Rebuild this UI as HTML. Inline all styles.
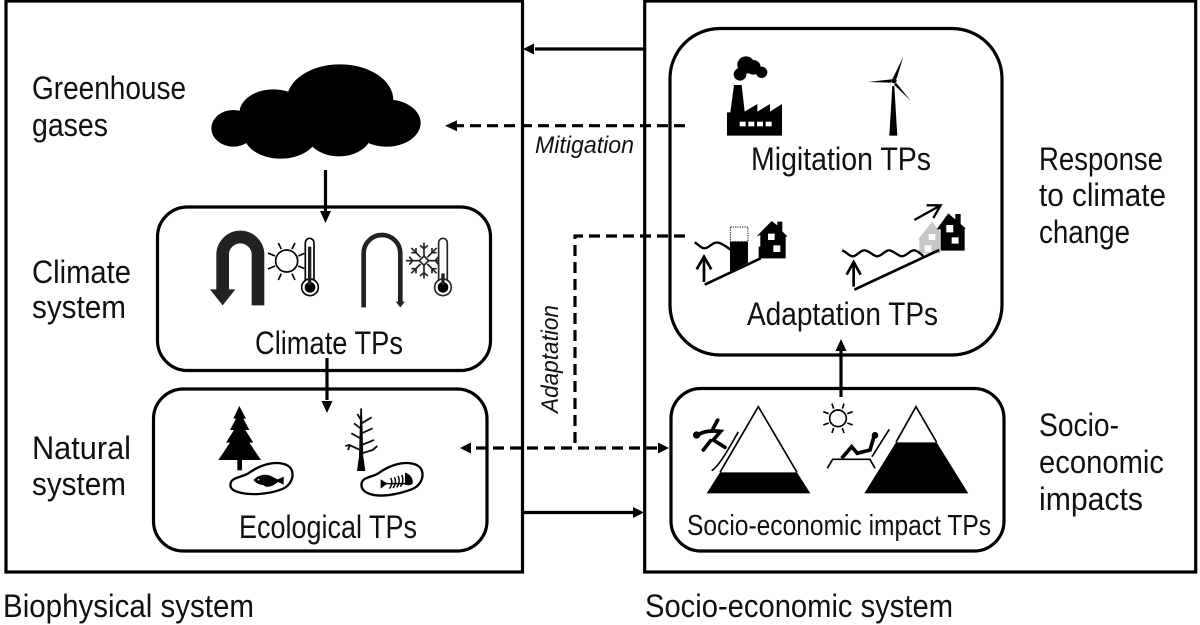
<!DOCTYPE html>
<html><head><meta charset="utf-8"><style>
html,body{margin:0;padding:0;background:#fff;width:1200px;height:625px;overflow:hidden}
svg{display:block}
text{font-family:"Liberation Sans",sans-serif;fill:#111;font-size:32px}
.i{font-style:italic;font-size:24px}
</style></head><body>
<svg width="1200" height="625" viewBox="0 0 1200 625" xmlns="http://www.w3.org/2000/svg">
<rect width="1200" height="625" fill="#fff"/>
<g fill="none" stroke="#000" stroke-width="3.2">
<rect x="6" y="1" width="516.5" height="571"/>
<rect x="644.7" y="1" width="551" height="571"/>
<rect x="157.5" y="207" width="333" height="163.5" rx="30"/>
<rect x="153.5" y="389" width="333.5" height="162" rx="30"/>
<rect x="670" y="28.5" width="332" height="326.5" rx="50"/>
<rect x="671" y="388.5" width="333" height="162.5" rx="30"/>
</g>

<!-- connectors -->
<g fill="none" stroke="#000" stroke-width="3.2">
<path d="M644,49H535"/><path d="M523,512.500H633"/>
<path d="M325.500,170V212"/><path d="M327,358V400"/><path d="M841,397V350"/>
<g stroke-dasharray="11 6">
<path d="M685,125.700H456"/>
<path d="M685,236H575V447"/>
<path d="M657,448H470"/>
</g>
</g>
<g fill="#000">
<path d="M523,49l11,-5.500v11z"/>
<path d="M644,512.500l-11,-5.500v11z"/>
<path d="M325.500,223l-5.500,-12h11z"/>
<path d="M327,413l-5.500,-12h11z"/>
<path d="M841,339l-5.500,12h11z"/>
<path d="M445,125.700l12,-5.500v11z"/>
<path d="M460,448l11,-5.500v11z"/>
<path d="M669,448l-11,-5.500v11z"/>
</g>

<!-- cloud -->
<g transform="translate(190 50) scale(.3333)" fill="#000">
<ellipse cx="130" cy="235" rx="66" ry="55"/>
<ellipse cx="250" cy="190" rx="102" ry="72"/>
<ellipse cx="450" cy="150" rx="160" ry="107"/>
<ellipse cx="590" cy="219" rx="102" ry="71"/>
<ellipse cx="272" cy="250" rx="112" ry="76"/>
<ellipse cx="447" cy="245" rx="100" ry="74"/>
</g>

<!-- climate icons -->
<g transform="translate(160 200) scale(.3333)">
<path d="M294,316V164A53,53 0 0 0 188,164V270" fill="none" stroke="#222" stroke-width="38"/>
<path d="M150,268H226L188,316z" fill="#222"/>
<circle cx="380" cy="183" r="33" fill="none" stroke="#000" stroke-width="5"/>
<g stroke="#000" stroke-width="5" fill="none">
<path d="M364,147l-9,-18M396,147l9,-18M345,168l-21,-9M345,198l-21,9M364,221l-9,19M396,221l9,19M415,168l18,-8M415,198l18,8"/>
<path d="M436,240V128a13,13 0 0 1 26,0V240" fill="#fff"/>
<circle cx="450" cy="262" r="25" fill="#fff"/>
</g>
<circle cx="450" cy="262" r="16" fill="#000"/><rect x="444" y="140" width="10" height="115" fill="#222"/>
<path d="M611,322V160A55,55 0 0 1 721,160V306" fill="none" stroke="#222" stroke-width="14"/>
<path d="M707,305H735L721,322z" fill="#222"/>
<g stroke="#222" stroke-width="5" fill="none">
<path d="M792,128V168M792,196V236M738,182H778M806,182H846M754,144L782,172M802,192L830,220M830,144L802,172M782,192L754,220"/>
<path d="M780,136l12,10l12,-10M780,228l12,-10l12,10M748,170l10,12l-10,12M836,170l-10,12l10,12M754,158h14v-14M830,158h-14v-14M754,206h14v14M830,206h-14v14"/>
<path d="M792,168l14,14l-14,14l-14,-14z"/>
<path d="M836,240V128a13,13 0 0 1 26,0V240" fill="#fff"/>
<circle cx="849" cy="262" r="25" fill="#fff"/>
</g>
<circle cx="849" cy="262" r="16" fill="#000"/><rect x="844" y="220" width="10" height="35" fill="#222"/>
</g>

<!-- ecological icons -->
<g transform="translate(150 390) scale(.3333)">
<path d="M268,48L288,86H280L298,120H286L310,158H298L333,210H205L240,158H228L252,120H240L258,86H250z" fill="#000"/>
<rect x="262" y="205" width="14" height="36" fill="#000"/>
<path d="M242,280C245,262 275,262 295,250C330,225 375,210 410,225C440,240 430,285 395,298C350,315 300,315 270,308C250,303 238,295 242,280z" fill="#fff" stroke="#000" stroke-width="7"/>
<path d="M310,270C322,258 345,246 370,262L384,268L401,260V284L384,276C370,288 350,296 340,285C330,285 318,280 310,270z" fill="#000"/>
<circle cx="326" cy="269" r="2.500" fill="#fff"/>
<path d="M631,55H636L640,200L646,243H621L627,200z" fill="#000"/>
<g fill="none" stroke="#111" stroke-width="5.500">
<path d="M633,90L622,72M635,100L665,82M631,115L612,100M635,130L668,115M631,145L604,130M635,165L672,150M631,180L598,165L586,168M600,165L594,180M635,190L668,180L682,168"/>
</g>
<path d="M635,280C637,262 665,262 685,250C720,225 765,210 800,225C830,240 820,285 785,298C740,315 690,322 660,312C642,306 632,295 635,280z" fill="#fff" stroke="#000" stroke-width="7"/>
<path d="M765,248C782,252 792,270 787,282C778,288 768,285 765,284z" fill="#000"/>
<path d="M692,268L712,280L692,296z" fill="#000"/>
<path d="M705,281H768M722,264C728,272 726,288 718,296M733,262C739,270 737,286 729,294M744,258C750,268 748,284 740,292M755,255C761,265 759,281 751,290" stroke="#000" stroke-width="4.500" fill="none"/>
</g>

<!-- mitigation icons -->
<g transform="translate(670 30) scale(.3333)" fill="#000">
<circle cx="228" cy="105" r="26"/><circle cx="210" cy="133" r="19"/><circle cx="250" cy="112" r="22"/><circle cx="275" cy="127" r="17"/>
<path d="M192,165H215L224,245L262,222V245L300,222V245L336,222V317H171V247H181z"/>
<g fill="#fff"><rect x="209" y="275" width="18" height="14"/><rect x="235" y="275" width="18" height="14"/><rect x="261" y="275" width="18" height="14"/><rect x="287" y="275" width="18" height="14"/></g>
<path d="M667,168H673L682,317H658z"/>
<circle cx="672" cy="152" r="8"/>
<path d="M669,144L700,80L680,146z"/>
<path d="M664,148L594,156L664,158z"/>
<path d="M678,158L722,212L672,164z"/>
</g>

<!-- adaptation icons -->
<g transform="translate(670 190) scale(.3333)">
<path d="M74,157C88,165 95,178 108,174C120,170 130,155 145,158C158,160 170,172 181,178" fill="none" stroke="#000" stroke-width="7"/>
<path d="M180,155H234V218L180,245z" fill="#000"/>
<rect x="181" y="111" width="53" height="44" fill="none" stroke="#222" stroke-width="3" stroke-dasharray="4 3"/>
<path d="M104,284L272,205" stroke="#000" stroke-width="8" fill="none"/>
<path d="M102,276V200M80,238L102,200L124,238" fill="none" stroke="#000" stroke-width="8"/>
<path d="M266,205V170H271V135L260,139L305,93L322,106V95H337V124L352,139L347,141V205zM294,131V150H314V131zM310,166V186H331V166z" fill="#000" fill-rule="evenodd"/>
<path d="M748,190V150L745,148L786,95L810,125V190zM776,132V150H796V132zM764,166V186H784V166z" fill="#c6c6c6" fill-rule="evenodd"/>
<path d="M516,181C530,186 538,199 548,199C560,199 570,181 583,181C597,181 610,199 622,199C634,199 645,181 657,181C670,181 685,199 696,199C708,199 720,181 732,181C742,181 752,192 760,198" fill="none" stroke="#000" stroke-width="7"/>
<path d="M553,299L808,180" stroke="#000" stroke-width="8" fill="none"/>
<path d="M551,290V216M530,254L551,216L572,254" fill="none" stroke="#000" stroke-width="8"/>
<path d="M812,178V118H800L835,70L856,88V72H872V102L888,116H884V182H812zM829,105V127H850V105zM845,142V161H866V142z" fill="#000" fill-rule="evenodd"/>
<path d="M733,90L805,50M770,46H812L790,84" fill="none" stroke="#000" stroke-width="7"/>
</g>

<!-- socio icons -->
<g transform="translate(670 390) scale(.3333)">
<path d="M110,310H421L381,247H150z" fill="#000"/>
<path d="M150,247L265,50L381,247" fill="none" stroke="#000" stroke-width="5"/>
<path d="M583,310H895L800,157H678z" fill="#000"/>
<path d="M678,157L738,50L800,157" fill="none" stroke="#000" stroke-width="5"/>
<path d="M125,242C150,228 190,150 205,126" fill="none" stroke="#000" stroke-width="5"/>
<g fill="none" stroke="#000" stroke-width="11" stroke-linecap="round">
<path d="M85,135C100,122 130,122 152,124L130,150L165,172"/>
<path d="M143,90L126,122"/><path d="M122,152L100,180"/>
</g>
<circle cx="80" cy="135" r="11" fill="#000"/>
<circle cx="504" cy="85" r="25" fill="none" stroke="#000" stroke-width="5"/>
<path d="M491,56l-5,-15M517,56l5,-15M476,71l-16,-6M532,71l16,-6M476,99l-16,6M532,99l16,6M491,114l-5,15M517,114l5,15" stroke="#000" stroke-width="5" fill="none"/>
<path d="M472,235L488,208H600L615,235M606,200L658,118" fill="none" stroke="#000" stroke-width="5"/>
<path d="M515,205L545,170L562,190L600,180L612,140" fill="none" stroke="#000" stroke-width="11"/>
<circle cx="615" cy="136" r="10" fill="#000"/>
</g>

<!-- labels -->
<text x="32" y="99" textLength="154" lengthAdjust="spacingAndGlyphs">Greenhouse</text>
<text x="32" y="136" textLength="76" lengthAdjust="spacingAndGlyphs">gases</text>
<text x="32" y="283" textLength="99" lengthAdjust="spacingAndGlyphs">Climate</text>
<text x="32" y="318" textLength="94" lengthAdjust="spacingAndGlyphs">system</text>
<text x="32" y="459" textLength="99" lengthAdjust="spacingAndGlyphs">Natural</text>
<text x="32" y="495" textLength="94" lengthAdjust="spacingAndGlyphs">system</text>
<text x="255" y="354" textLength="148" lengthAdjust="spacingAndGlyphs">Climate TPs</text>
<text x="239" y="538" textLength="178" lengthAdjust="spacingAndGlyphs">Ecological TPs</text>
<text x="751" y="170" textLength="180" lengthAdjust="spacingAndGlyphs">Migitation TPs</text>
<text x="747" y="325" textLength="191" lengthAdjust="spacingAndGlyphs">Adaptation TPs</text>
<text x="687" y="535" textLength="304" lengthAdjust="spacingAndGlyphs" style="font-size:29px">Socio-economic impact TPs</text>
<text x="1039" y="170" textLength="124" lengthAdjust="spacingAndGlyphs">Response</text>
<text x="1039" y="206" textLength="127" lengthAdjust="spacingAndGlyphs">to climate</text>
<text x="1039" y="243" textLength="91" lengthAdjust="spacingAndGlyphs">change</text>
<text x="1039" y="436" textLength="80" lengthAdjust="spacingAndGlyphs">Socio-</text>
<text x="1039" y="473" textLength="125" lengthAdjust="spacingAndGlyphs">economic</text>
<text x="1039" y="510" textLength="104" lengthAdjust="spacingAndGlyphs">impacts</text>
<text x="3" y="617" textLength="251" lengthAdjust="spacingAndGlyphs">Biophysical system</text>
<text x="645" y="617" textLength="308" lengthAdjust="spacingAndGlyphs">Socio-economic system</text>
<text class="i" x="535" y="153" textLength="99" lengthAdjust="spacingAndGlyphs">Mitigation</text>
<text class="i" transform="translate(558 413) rotate(-90)" x="0" y="0" textLength="108" lengthAdjust="spacingAndGlyphs">Adaptation</text>
</svg>
</body></html>
